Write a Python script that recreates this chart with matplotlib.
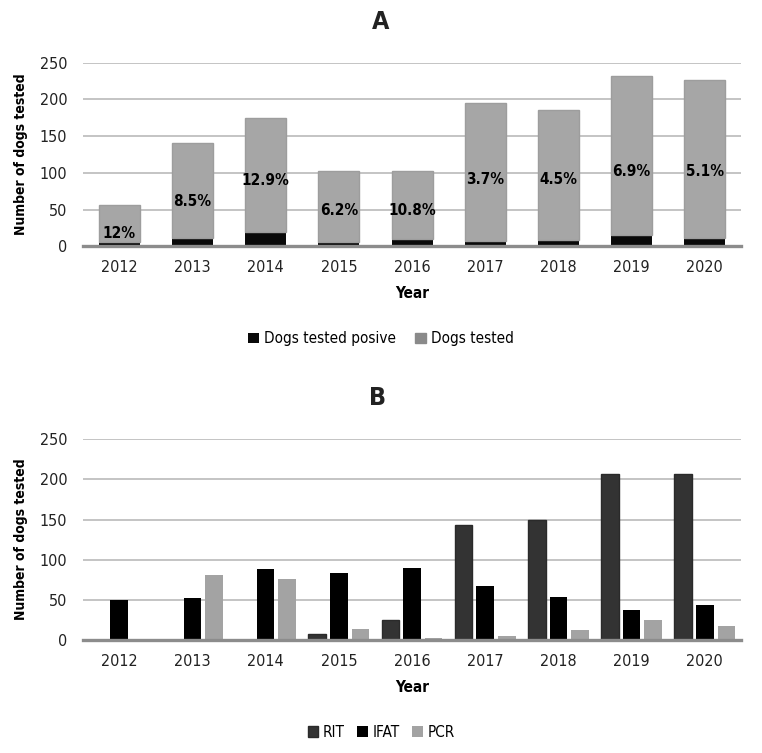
import numpy as np
import matplotlib
matplotlib.use("Agg")
import matplotlib.pyplot as plt

plt.rcParams['font.family'] = ['DejaVu Sans']
plt.rcParams['font.stretch'] = 'condensed'

years = ['2012', '2013', '2014', '2015', '2016', '2017', '2018', '2019', '2020']

# panel A
dogs_positive = [6, 11, 20, 6, 10, 7, 8, 15, 11]
dogs_tested = [50, 129, 155, 97, 93, 188, 178, 217, 216]
pct_labels = ['12%', '8.5%', '12.9%', '6.2%', '10.8%', '3.7%', '4.5%', '6.9%', '5.1%']
pct_label_y = [18, 61, 90, 49, 49, 91, 91, 102, 102]

# panel B
rit = [0, 0, 0, 7, 25, 143, 149, 207, 207]
ifat = [50, 52, 89, 83, 90, 67, 53, 37, 44]
pcr = [0, 81, 76, 14, 3, 5, 12, 25, 17]

fig = plt.figure(figsize=(7.62, 7.53), dpi=100)
ax1 = fig.add_axes([0.1085, 0.673, 0.8645, 0.2437])
ax2 = fig.add_axes([0.1085, 0.150, 0.8645, 0.2666])

x = np.arange(len(years))


def style_axis(ax):
    ax.set_ylim(0, 250)
    ax.set_xlim(-0.5, len(years) - 0.5)
    ax.set_yticks([0, 50, 100, 150, 200, 250])
    ax.yaxis.grid(True, color='#bfbfbf', linewidth=1.3)
    ax.set_axisbelow(True)
    for s in ['top', 'right', 'left']:
        ax.spines[s].set_visible(False)
    ax.spines['bottom'].set_color('#8c8c8c')
    ax.spines['bottom'].set_linewidth(2.4)
    ax.tick_params(axis='y', length=0, pad=11, labelsize=11.5, colors='#222222')
    ax.tick_params(axis='x', length=0, pad=10, labelsize=11.5, colors='#222222')
    ax.set_xticks(x)
    ax.set_xticklabels(years)
    ax.set_xlabel('Year', fontsize=11, fontweight='bold', labelpad=8)
    ax.set_ylabel('Number of dogs tested', fontsize=10, fontweight='bold')
    ax.yaxis.set_label_coords(-0.083, 0.5)


# A: stacked bars
ax1.bar(x, dogs_positive, 0.56, color='#0a0a0a', label='Dogs tested posive', zorder=2)
ax1.bar(x, dogs_tested, 0.56, bottom=dogs_positive, color='#a6a6a6', edgecolor='#9d9d9d',
        linewidth=1.0, label='Dogs tested', zorder=2)
for i in range(len(years)):
    ax1.text(x[i], pct_label_y[i], pct_labels[i], ha='center', va='center',
             fontsize=11, fontweight='bold', color='black', zorder=3)
style_axis(ax1)
fig.text(0.5, 0.971, 'A', ha='center', va='center', fontsize=18, fontweight='bold',
         color='#222222')
h1, l1 = ax1.get_legend_handles_labels()
h1[1] = plt.Rectangle((0, 0), 1, 1, color='#8a8a8a')
fig.legend(h1, l1, loc='center', bbox_to_anchor=(0.5, 0.55), ncol=2, frameon=False,
           fontsize=11, handlelength=0.7, handleheight=0.7, handletextpad=0.3, columnspacing=1.3)

# B: grouped bars
w = 0.24
step = 0.295
ax2.bar(x - step, rit, w, color='#333333', edgecolor='#2a2a2a', linewidth=1, label='RIT', zorder=2)
ax2.bar(x, ifat, w, color='#000000', label='IFAT', zorder=2)
ax2.bar(x + step, pcr, w, color='#a3a3a3', label='PCR', zorder=2)
style_axis(ax2)
fig.text(0.495, 0.4715, 'B', ha='center', va='center', fontsize=18, fontweight='bold',
         color='#222222')
fig.legend(*ax2.get_legend_handles_labels(), loc='center', bbox_to_anchor=(0.5, 0.027), ncol=3,
           frameon=False, fontsize=11, handlelength=0.7, handleheight=0.7, handletextpad=0.3,
           columnspacing=0.8)

fig.savefig('out.png', dpi=100)
